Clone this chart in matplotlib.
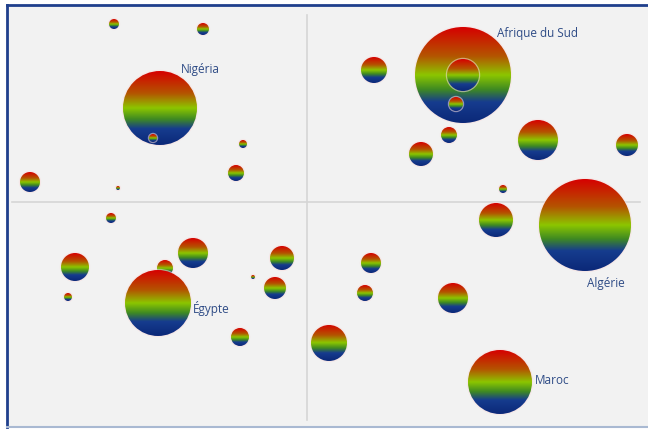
import numpy as np
import matplotlib
matplotlib.use("Agg")
import matplotlib.pyplot as plt
from matplotlib.patches import Circle
from matplotlib.colors import LinearSegmentedColormap

# bubble data (x, y, radius in data units) - drawing order matters
bx = [-19.3, -10.4, -14.7, -15.4, -6.4, -7.1, -27.7, -18.9, -19.6, -23.2,
      -11.4, -14.2, -14.9, -23.9, -2.5, -5.4, -3.2, -6.7, 2.2, 6.4,
      5.8, 14.6, 19.3, 27.8, 18.9, 19.6, 15.6, 15.6, 14.9, 6.7,
      14.2, 11.4, 23.1, 32.0]
by = [17.8, 17.3, 9.4, 6.4, 5.8, 2.9, 2.0, 1.4, -1.6, -6.5,
      -5.1, -6.6, -10.1, -9.5, -5.6, -7.5, -8.6, -13.5, -14.1, -6.1,
      -9.1, -9.6, -18.0, -2.3, -1.8, 1.3, 12.7, 12.7, 9.8, 13.2,
      6.7, 4.8, 6.2, 5.7]
br = [0.5, 0.6, 3.7, 0.4, 0.4, 0.8, 1.0, 0.2, 0.5, 1.4,
      1.5, 0.8, 3.3, 0.4, 1.2, 0.2, 1.1, 0.9, 1.8, 1.0,
      0.8, 1.5, 3.2, 4.6, 1.7, 0.4, 4.8, 1.6, 0.7, 1.3,
      0.8, 1.2, 2.0, 1.1]

labels = ["Nigéria", "Afrique du Sud", "Algérie", "Égypte", "Maroc"]
label_x = [-12.6, 19.0, 29.9, -11.4, 22.8]
label_y = [13.2, 16.8, -8.1, -10.7, -17.9]
label_ha = ["left", "left", "center", "left", "left"]

cmap = LinearSegmentedColormap.from_list("bubble", [
    (0.0, "#d60000"), (0.3, "#b45400"), (0.5, "#8cc600"),
    (0.65, "#3f8a22"), (0.78, "#163c8e"), (1.0, "#0b2878")])
grad = np.linspace(0, 1, 256).reshape(-1, 1)

fig = plt.figure(figsize=(6.48, 4.29), dpi=100)
ax = fig.add_axes([7 / 648, 2 / 429, 641 / 648, 422 / 429])
ax.set_facecolor("#f2f2f2")
ax.set_xlim(-30.0, 34.1)
ax.set_ylim(-22.5, 19.7)
ax.set_aspect("equal")

# crosshair
ax.plot([-29.5, 33.3], [0, 0], color="#d6d6d6", lw=1.2, zorder=1)
ax.plot([0, 0], [-21.8, 18.7], color="#d6d6d6", lw=1.2, zorder=1)

z = 2
for x, y, r in zip(bx, by, br):
    rim = Circle((x, y), r + 0.12, facecolor="#f8dede", edgecolor="none",
                 alpha=0.55, zorder=z)
    ax.add_patch(rim)
    im = ax.imshow(grad, cmap=cmap, extent=[x - r, x + r, y - r, y + r],
                   origin="upper", aspect="auto", zorder=z + 0.5,
                   interpolation="bilinear")
    clip = Circle((x, y), r, transform=ax.transData)
    im.set_clip_path(clip)
    z += 1

for t, x, y, ha in zip(labels, label_x, label_y, label_ha):
    ax.text(x, y, t, ha=ha, va="center", fontsize=8.5, color="#2f4c86",
            family="Open Sans", zorder=200)

ax.set_xticks([])
ax.set_yticks([])
ax.spines["right"].set_visible(False)
ax.spines["top"].set_color("#1f3f8c")
ax.spines["left"].set_color("#1f3f8c")
ax.spines["top"].set_linewidth(2)
ax.spines["left"].set_linewidth(2)
ax.spines["bottom"].set_color("#a9b9d2")
ax.spines["bottom"].set_linewidth(1.5)

fig.savefig("out.png", dpi=100, facecolor="white")
